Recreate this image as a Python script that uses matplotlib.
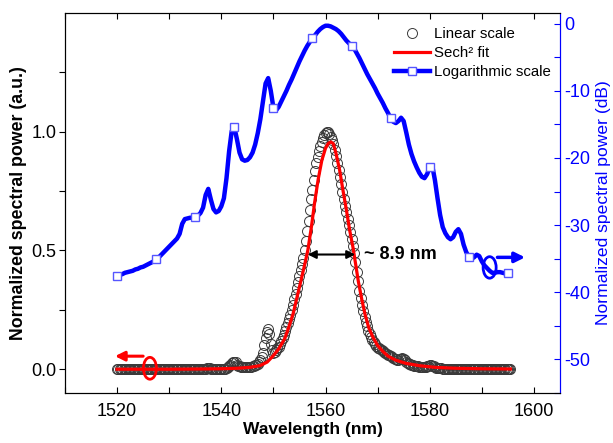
import numpy as np
import matplotlib
matplotlib.use('Agg')
import matplotlib.pyplot as plt
from matplotlib.patches import Ellipse

plt.rcParams['font.family'] = ['Liberation Sans', 'DejaVu Sans']
plt.rcParams['axes.unicode_minus'] = False

# ---------------- data ----------------
# Logarithmic spectrum (dB), 0.5 nm steps from 1520 to 1595.5 nm
log_wl = np.arange(1520.0, 1595.51, 0.5)
log_db = [
    -37.6, -37.4, -37.3, -37.1, -37.0, -36.9, -36.8, -36.6, -36.5, -36.3,
    -36.2, -36.0, -35.8, -35.6, -35.4, -35.1, -34.8, -34.4, -34.0, -33.6,
    -33.2, -32.8, -32.4, -32.0, -31.3, -29.8, -29.1, -29.0, -28.9, -28.9,
    -28.8, -28.6, -28.2, -27.4, -25.5, -24.6, -26.2, -27.6, -28.1, -27.9,
    -27.2, -26.0, -23.0, -19.0, -16.0, -15.4, -17.2, -19.2, -20.2, -20.4,
    -20.3, -19.9, -19.2, -18.0, -16.3, -14.2, -11.5, -8.9, -8.1, -10.0,
    -12.5, -12.9, -12.4, -11.6, -10.8, -10.0, -9.1, -8.3, -7.4, -6.5,
    -5.6, -4.8, -4.0, -3.3, -2.7, -2.2, -1.7, -1.2, -0.8, -0.5,
    -0.3, -0.3, -0.4, -0.6, -0.8, -1.1, -1.5, -2.0, -2.5, -2.9,
    -3.3, -3.7, -4.4, -5.1, -5.9, -6.7, -7.5, -8.2, -8.9, -9.6,
    -10.4, -11.1, -11.8, -12.6, -13.3, -14.1, -14.6, -14.8, -14.5, -14.0,
    -14.5, -16.2, -18.0, -19.4, -20.5, -21.4, -22.2, -22.8, -23.0, -22.4,
    -21.4, -21.2, -23.3, -26.0, -28.5, -30.3, -31.2, -31.8, -32.1, -31.8,
    -31.0, -30.6, -31.3, -32.9, -34.0, -34.7, -35.0, -34.8, -34.4, -34.6,
    -35.4, -36.0, -36.4, -36.8, -37.1, -37.1, -37.0, -37.0, -37.1, -37.2,
    -37.2, -37.2,
]

# Linear spectrum (a.u.), 0.25 nm steps
lin_wl_a = np.arange(1520.0, 1550.76, 0.25)
lin_a = [
    0.000, 0.000, 0.000, 0.000,  # 1520
    0.000, 0.000, 0.000, 0.000,  # 1521
    0.000, 0.000, 0.000, 0.000,  # 1522
    0.000, 0.000, 0.000, 0.000,  # 1523
    0.000, 0.000, 0.000, 0.000,  # 1524
    0.000, 0.000, 0.000, 0.000,  # 1525
    0.000, 0.000, 0.000, 0.000,  # 1526
    0.000, 0.000, 0.000, 0.000,  # 1527
    0.000, 0.000, 0.000, 0.000,  # 1528
    0.000, 0.000, 0.000, 0.000,  # 1529
    0.001, 0.001, 0.001, 0.001,  # 1530
    0.001, 0.001, 0.001, 0.001,  # 1531
    0.001, 0.001, 0.001, 0.001,  # 1532
    0.001, 0.001, 0.001, 0.001,  # 1533
    0.001, 0.001, 0.001, 0.001,  # 1534
    0.001, 0.001, 0.001, 0.002,  # 1535
    0.002, 0.002, 0.002, 0.003,  # 1536
    0.003, 0.004, 0.004, 0.004,  # 1537
    0.003, 0.003, 0.002, 0.002,  # 1538
    0.002, 0.002, 0.002, 0.002,  # 1539
    0.002, 0.002, 0.003, 0.003,  # 1540
    0.005, 0.008, 0.013, 0.019,  # 1541
    0.025, 0.029, 0.031, 0.030,  # 1542
    0.019, 0.015, 0.012, 0.011,  # 1543
    0.010, 0.010, 0.009, 0.009,  # 1544
    0.009, 0.009, 0.010, 0.011,  # 1545
    0.012, 0.014, 0.016, 0.019,  # 1546
    0.023, 0.029, 0.038, 0.052,  # 1547
    0.070, 0.100, 0.130, 0.155,  # 1548
    0.168, 0.150, 0.105, 0.082,  # 1549
    0.070, 0.074, 0.080, 0.088,  # 1550
]
lin_wl_b = np.arange(1551.0, 1570.01, 0.25)
lin_b = [
    0.095, 0.105, 0.118, 0.132,  # 1551
    0.146, 0.160, 0.176, 0.194,  # 1552
    0.212, 0.230, 0.250, 0.272,  # 1553
    0.295, 0.318, 0.342, 0.366,  # 1554
    0.392, 0.418, 0.444, 0.470,  # 1555
    0.500, 0.540, 0.580, 0.625,  # 1556
    0.670, 0.715, 0.755, 0.795,  # 1557
    0.835, 0.868, 0.895, 0.920,  # 1558
    0.940, 0.958, 0.972, 0.985,  # 1559
    0.995, 1.000, 0.998, 0.990,  # 1560
    0.978, 0.966, 0.950, 0.925,  # 1561
    0.898, 0.870, 0.840, 0.810,  # 1562
    0.778, 0.746, 0.716, 0.688,  # 1563
    0.660, 0.634, 0.606, 0.578,  # 1564
    0.550, 0.520, 0.488, 0.452,  # 1565
    0.410, 0.370, 0.330, 0.300,  # 1566
    0.270, 0.245, 0.222, 0.200,  # 1567
    0.180, 0.162, 0.148, 0.136,  # 1568
    0.124, 0.114, 0.105, 0.098,  # 1569
    0.091,                       # 1570
]
lin_wl_c = np.arange(1570.25, 1595.51, 0.25)
lin_c = [
    0.088, 0.085, 0.081,         # 1570.25-1570.75
    0.078, 0.074, 0.070, 0.066,  # 1571
    0.062, 0.058, 0.055, 0.051,  # 1572
    0.048, 0.045, 0.042, 0.040,  # 1573
    0.040, 0.042, 0.045, 0.046,  # 1574
    0.044, 0.037, 0.030, 0.026,  # 1575
    0.022, 0.020, 0.018, 0.016,  # 1576
    0.015, 0.014, 0.013, 0.012,  # 1577
    0.011, 0.011, 0.010, 0.010,  # 1578
    0.010, 0.011, 0.012, 0.014,  # 1579
    0.016, 0.016, 0.015, 0.012,  # 1580
    0.009, 0.007, 0.006, 0.005,  # 1581
    0.004, 0.004, 0.003, 0.003,  # 1582
    0.003, 0.003, 0.002, 0.002,  # 1583
    0.002, 0.002, 0.002, 0.002,  # 1584
    0.002, 0.002, 0.002, 0.002,  # 1585
    0.002, 0.002, 0.001, 0.001,  # 1586
    0.001, 0.001, 0.001, 0.001,  # 1587
    0.001, 0.001, 0.001, 0.001,  # 1588
    0.001, 0.001, 0.001, 0.001,  # 1589
    0.001, 0.001, 0.000, 0.000,  # 1590
    0.000, 0.000, 0.000, 0.000,  # 1591
    0.000, 0.000, 0.000, 0.000,  # 1592
    0.000, 0.000, 0.000, 0.000,  # 1593
    0.000, 0.000, 0.000, 0.000,  # 1594
    0.000, 0.000, 0.000,         # 1595-1595.5
]

# Sech^2 fit curve
fit_wl = [1520.0, 1530.0, 1536.0, 1540.0, 1543.0, 1545.5, 1547.4, 1548.8,
          1549.9, 1551.0, 1552.2, 1553.0, 1553.8, 1554.5, 1555.2, 1556.0,
          1556.6, 1557.3, 1557.9, 1558.6, 1559.3, 1560.0, 1560.5, 1561.0,
          1561.5, 1562.0, 1562.7, 1563.3, 1564.0, 1564.6, 1565.3, 1565.8,
          1566.3, 1567.0, 1567.6, 1568.3, 1569.1, 1570.0, 1571.0, 1572.0,
          1573.5, 1575.4, 1578.0, 1581.0, 1585.0, 1590.0, 1595.5]
fit_val = [0.000, 0.000, 0.001, 0.002, 0.004, 0.008, 0.015, 0.030,
           0.055, 0.085, 0.130, 0.180, 0.235, 0.300, 0.365, 0.440,
           0.500, 0.600, 0.700, 0.800, 0.880, 0.930, 0.950, 0.957,
           0.950, 0.910, 0.840, 0.760, 0.672, 0.590, 0.510, 0.440,
           0.370, 0.290, 0.230, 0.175, 0.135, 0.100, 0.075, 0.055,
           0.038, 0.025, 0.015, 0.008, 0.004, 0.002, 0.001]

lin_wl = np.concatenate([lin_wl_a, lin_wl_b, lin_wl_c])
lin_val = np.concatenate([lin_a, lin_b, lin_c])

# ---------------- figure ----------------
fig = plt.figure(figsize=(6.13, 4.43), dpi=100)
ax = fig.add_axes([0.106, 0.1129, 0.8075, 0.8578])
ax2 = ax.twinx()

l1, = ax.plot(lin_wl, lin_val, 'o', mfc='none', mec='#3a3a3a', mew=0.7, ms=7.2,
              zorder=2, label='Linear scale')
l2, = ax.plot(fit_wl, fit_val, '-', color='#ff0000', lw=2.3, zorder=3,
              label='Sech² fit')
l3, = ax2.plot(log_wl, log_db, '-', color='#0000ff', lw=3.2, marker='s',
               markevery=15, ms=5.5, mfc='white', mec='#5555ff', mew=1,
               label='Logarithmic scale')

ax.set_xlim(1510, 1605)
ax.set_ylim(-0.1, 1.5)
ax2.set_ylim(-55, 1.6)

ax.set_xticks([1520, 1540, 1560, 1580, 1600])
ax.set_xticks(np.arange(1510, 1606, 10), minor=True)
ax.set_yticks([0.0, 0.5, 1.0])
ax.set_yticklabels(['0.0', '0.5', '1.0'])
ax.set_yticks([0.25, 0.75, 1.25], minor=True)
ax2.set_yticks([0, -10, -20, -30, -40, -50])
ax2.set_yticks([-5, -15, -25, -35, -45, -55], minor=True)

ax.tick_params(axis='x', which='both', direction='in', top=True, labelsize=13,
               pad=7, length=4, width=0.8)
ax.tick_params(axis='y', which='both', direction='out', labelsize=13, pad=2,
               length=4, width=0.8)
ax2.tick_params(axis='y', which='both', direction='in', colors='blue',
                labelsize=13, pad=3, length=4, width=0.8)
for a in (ax, ax2):
    a.spines['right'].set_color('blue')
    for s in a.spines.values():
        s.set_linewidth(0.8)

ax.set_xlabel('Wavelength (nm)', fontsize=12.5, fontweight='bold', labelpad=2)
ax.set_ylabel('Normalized spectral power (a.u.)', fontsize=12.8,
              fontweight='bold', labelpad=3)
ax2.set_ylabel('Normalized spectral power (dB)', fontsize=12.6, color='blue',
               labelpad=4)

# annotations
ax.annotate('', xy=(1556.6, 0.483), xytext=(1565.7, 0.483),
            arrowprops=dict(arrowstyle='<|-|>', color='black', lw=1.5,
                            mutation_scale=12, shrinkA=0, shrinkB=0))
ax.text(1567.3, 0.483, '~ 8.9 nm', fontsize=13, fontweight='bold', va='center')

ax.annotate('', xy=(1519.6, 0.055), xytext=(1525.0, 0.055),
            arrowprops=dict(arrowstyle='-|>', color='red', lw=2.2,
                            mutation_scale=14, shrinkA=0, shrinkB=0))
ax.add_patch(Ellipse((1526.3, 0.004), 2.5, 0.092, fill=False, edgecolor='red',
                     lw=2, zorder=4))

ax2.annotate('', xy=(1598.3, -34.8), xytext=(1593.0, -34.8),
             arrowprops=dict(arrowstyle='-|>', color='blue', lw=2.5,
                             mutation_scale=15, shrinkA=0, shrinkB=0))
ax2.add_patch(Ellipse((1591.5, -36.3), 2.5, 3.2, fill=False, edgecolor='blue',
                      lw=2, zorder=4))

ax2.legend([l1, l2, l3], ['Linear scale', 'Sech² fit', 'Logarithmic scale'],
           loc='upper left', bbox_to_anchor=(0.665, 0.962), frameon=False,
           fontsize=10.8, handlelength=2.4, handletextpad=0.25,
           labelspacing=0.32, borderpad=0, borderaxespad=0, numpoints=1)

fig.savefig('out.png', dpi=100)
